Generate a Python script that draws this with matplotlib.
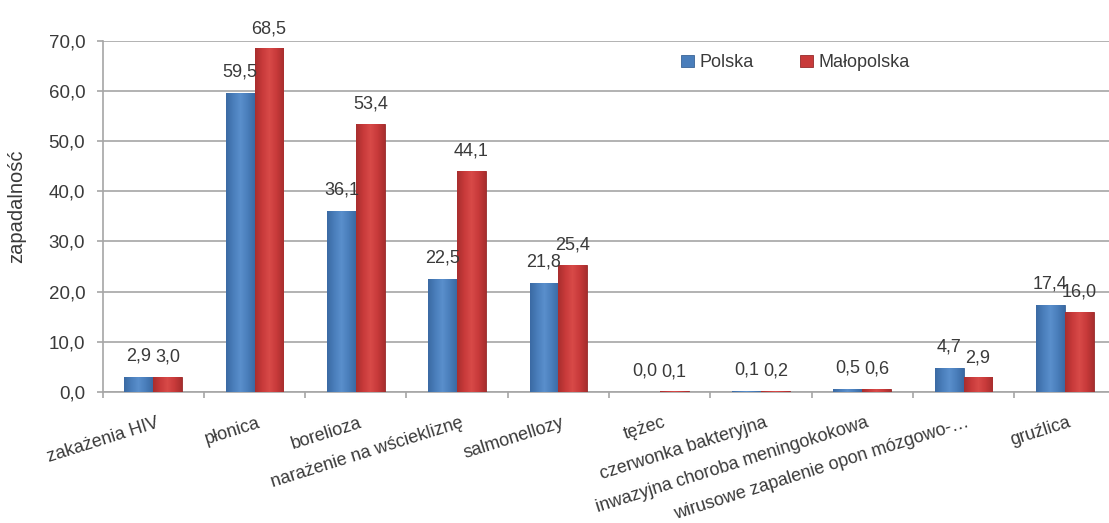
import numpy as np
import matplotlib
matplotlib.use('Agg')
import matplotlib.pyplot as plt
from matplotlib.colors import LinearSegmentedColormap
from matplotlib.transforms import ScaledTranslation

categories = ['zakażenia HIV', 'płonica', 'borelioza', 'narażenie na wściekliznę',
              'salmonellozy', 'tężec', 'czerwonka bakteryjna',
              'inwazyjna choroba meningokokowa', 'wirusowe zapalenie opon mózgowo-…',
              'gruźlica']
polska = [2.9, 59.5, 36.1, 22.5, 21.8, 0.0, 0.1, 0.5, 4.7, 17.4]
malopolska = [3.0, 68.5, 53.4, 44.1, 25.4, 0.1, 0.2, 0.6, 2.9, 16.0]
yticks = [0, 10, 20, 30, 40, 50, 60, 70]

plt.rcParams['font.family'] = ['Liberation Sans', 'DejaVu Sans']
txt = '#3a3a3a'
grid = '#a6a6a6'

fig = plt.figure(figsize=(11.09, 5.23), dpi=100)
ax = fig.add_axes([0.0925, 0.2505, 0.9134, 0.6717])

x = np.arange(len(categories))
w = 0.285

b1 = ax.bar(x - w/2, polska, w, color='#4a7ebb', edgecolor='#3a6496', linewidth=0.6,
            label='Polska', zorder=3)
b2 = ax.bar(x + w/2, malopolska, w, color='#c83a3a', edgecolor='#962a2a', linewidth=0.6,
            label='Małopolska', zorder=3)

# shaded fill so the bars look rounded like the office charts
def shade(bars, dark, mid, light):
    cmap = LinearSegmentedColormap.from_list('s', [dark, mid, light, mid, dark])
    grad = np.linspace(0, 1, 64).reshape(1, -1)
    for p in bars:
        h = p.get_height()
        if h <= 0:
            continue
        x0 = p.get_x()
        im = ax.imshow(grad, cmap=cmap, aspect='auto', zorder=3.5,
                       extent=[x0, x0 + p.get_width(), 0, h], interpolation='bilinear')
        im.set_clip_path(p)

shade(b1, '#3b6aa3', '#4a7ebb', '#5a8fcc')
shade(b2, '#a82e2e', '#c83a3a', '#d84a48')

fmt = lambda vals: [f'{v:.1f}'.replace('.', ',') for v in vals]
ax.bar_label(b1, labels=fmt(polska), padding=9, fontsize=13, color=txt, zorder=5)
ax.bar_label(b2, labels=fmt(malopolska), padding=8, fontsize=13, color=txt, zorder=5)

ax.set_xlim(-0.5, len(categories) - 0.5)
ax.set_ylim(0, 70)
ax.set_yticks(yticks)
ax.set_yticklabels([f'{v:.1f}'.replace('.', ',') for v in yticks], fontsize=13.5, color=txt)
ax.yaxis.grid(True, color=grid, linewidth=1.2, zorder=0)
ax.set_axisbelow(True)

ax.set_xticks(x)
ax.set_xticklabels(categories, rotation=17.5, ha='right', va='top',
                   rotation_mode='anchor', fontsize=13, color=txt)
ax.set_xticks(np.arange(len(categories) + 1) - 0.5, minor=True)
ax.tick_params(axis='x', which='major', length=0, pad=16)
ax.tick_params(axis='x', which='minor', length=4, color=grid, width=1.2)
ax.tick_params(axis='y', length=4.5, color=grid, width=1.2, pad=8)
shift = ScaledTranslation(0.03, 0, fig.dpi_scale_trans)
for lab in ax.get_xticklabels():
    lab.set_transform(lab.get_transform() + shift)

for s in ['top', 'right']:
    ax.spines[s].set_visible(False)
for s in ['left', 'bottom']:
    ax.spines[s].set_color(grid)
    ax.spines[s].set_linewidth(1.2)

ax.set_ylabel('zapadalność', fontsize=14.5, color=txt)
ax.yaxis.set_label_coords(-0.075, 0.53)

ax.legend(loc='center', bbox_to_anchor=(0.684, 0.937), ncol=2, frameon=False,
          fontsize=13, handlelength=0.7, handleheight=0.7, handletextpad=0.3,
          columnspacing=2.6, labelcolor=txt)

fig.savefig('out.png', dpi=100)
